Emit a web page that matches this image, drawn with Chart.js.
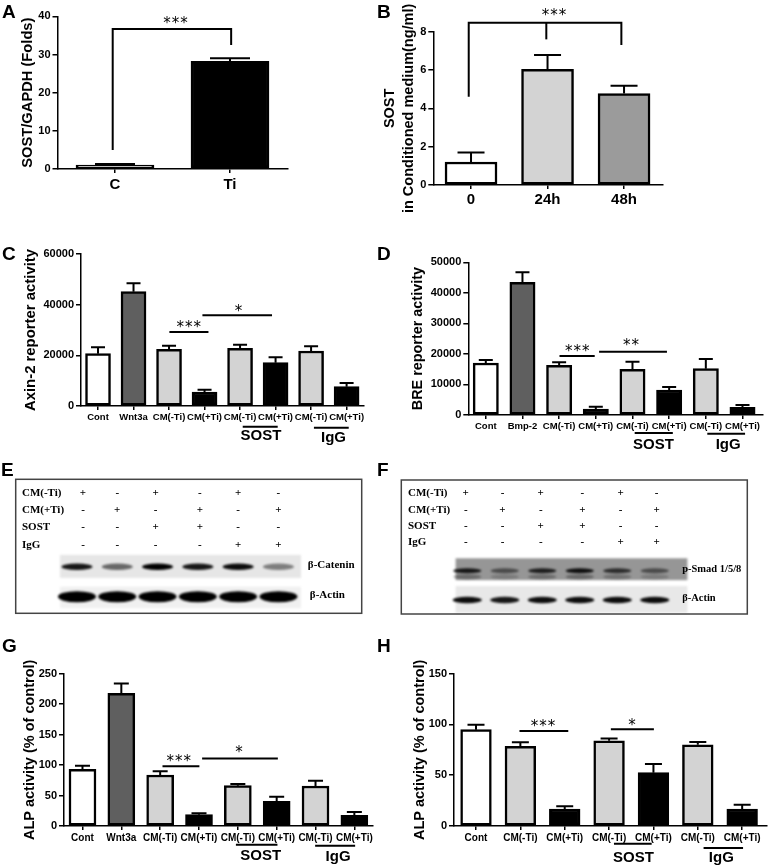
<!DOCTYPE html>
<html>
<head>
<meta charset="utf-8">
<script src="https://cdn.jsdelivr.net/npm/chart.js@4"></script>
<style>
  html, body { margin: 0; padding: 0; background: #fff; }
  body { width: 768px; height: 868px; position: relative; overflow: hidden; filter: blur(0.35px); }
  canvas { position: absolute; }
  .tag { position: absolute; font: bold 19px "Liberation Sans", Arial, sans-serif; line-height: 19px; color: #000; }
</style>
</head>
<body>
<canvas id="panelA"></canvas><canvas id="panelB"></canvas>
<canvas id="panelC"></canvas><canvas id="panelD"></canvas>
<canvas id="panelE"></canvas><canvas id="panelF"></canvas>
<canvas id="panelG"></canvas><canvas id="panelH"></canvas>
<span class="tag" style="left:2px;top:2px">A</span>
<span class="tag" style="left:377px;top:2px">B</span>
<span class="tag" style="left:2px;top:244px">C</span>
<span class="tag" style="left:377px;top:244px">D</span>
<span class="tag" style="left:1px;top:460px">E</span>
<span class="tag" style="left:377px;top:460px">F</span>
<span class="tag" style="left:2px;top:636px">G</span>
<span class="tag" style="left:377px;top:636px">H</span>
<script>
// values
const white = '#ffffff', light = '#d3d3d3', mid = '#9b9b9b', dark = '#5f5f5f', black = '#000000';

const aLabels = ['C', 'Ti'];
const aValues = [1, 28.2];
const aTops = [1.3, 29];
const aColors = [white, black];

const bLabels = ['0', '24h', '48h'];
const bValues = [1.2, 6.03, 4.77];
const bTops = [1.69, 6.78, 5.18];
const bColors = [white, light, mid];

const cLabels = ['Cont', 'Wnt3a', 'CM(-Ti)', 'CM(+Ti)', 'CM(-Ti)', 'CM(+Ti)', 'CM(-Ti)', 'CM(+Ti)'];
const cValues = [20660, 45130, 22370, 5530, 22760, 17100, 21700, 7630];
const cTops = [23160, 48420, 23800, 6450, 24200, 19200, 23550, 9080];

const dLabels = ['Cont', 'Bmp-2', 'CM(-Ti)', 'CM(+Ti)', 'CM(-Ti)', 'CM(+Ti)', 'CM(-Ti)', 'CM(+Ti)'];
const dValues = [17030, 43450, 16270, 1970, 14960, 8190, 15180, 2510];
const dTops = [18010, 46730, 17250, 2730, 17470, 9170, 18340, 3280];

const gLabels = ['Cont', 'Wnt3a', 'CM(-Ti)', 'CM(+Ti)', 'CM(-Ti)', 'CM(+Ti)', 'CM(-Ti)', 'CM(+Ti)'];
const gValues = [93, 217.7, 83.7, 18.6, 66.2, 40.5, 65.6, 17.5];
const gTops = [99, 234, 89.7, 20.8, 69, 48, 74.4, 23];

const hLabels = ['Cont', 'CM(-Ti)', 'CM(+Ti)', 'CM(-Ti)', 'CM(+Ti)', 'CM(-Ti)', 'CM(+Ti)'];
const hValues = [94.9, 78.4, 16.7, 84, 52.5, 80, 16.7];
const hTops = [99.8, 82.4, 19.4, 86.3, 61, 82.7, 21];

const eightColors = [white, dark, light, black, light, black, light, black];
const sevenColors = [white, light, black, light, black, light, black];

// western blot rows and band strength per lane
const rowNames = ['CM(-Ti)', 'CM(+Ti)', 'SOST', 'IgG'];
const rowSigns = [
  ['+', '-', '+', '-', '+', '-'],
  ['-', '+', '-', '+', '-', '+'],
  ['-', '-', '+', '+', '-', '-'],
  ['-', '-', '-', '-', '+', '+']
];
const catenin = [0.9, 0.55, 1, 0.9, 0.95, 0.45];
const actinE = [1, 1, 1, 1, 1, 1];
const smad = [0.85, 0.5, 0.8, 0.9, 0.7, 0.5];
const actinF = [0.95, 0.9, 0.95, 0.95, 0.95, 0.95];

const sans = '"Liberation Sans", Arial, sans-serif';
const serif = '"Liberation Serif", "Times New Roman", serif';

// error whiskers, brackets, significance lines and group notes, all in data units
const extrasPlugin = {
  id: 'extras',
  afterDatasetsDraw(chart, args, opts) {
    const ctx = chart.ctx, x = chart.scales.x, y = chart.scales.y;
    ctx.save();
    ctx.strokeStyle = '#000';
    ctx.lineWidth = 2;
    opts.tops.forEach((top, i) => {
      const px = x.getPixelForValue(i);
      ctx.beginPath();
      ctx.moveTo(px, y.getPixelForValue(opts.values[i]));
      ctx.lineTo(px, y.getPixelForValue(top));
      ctx.moveTo(px - opts.cap / 2, y.getPixelForValue(top));
      ctx.lineTo(px + opts.cap / 2, y.getPixelForValue(top));
      ctx.stroke();
    });
    opts.paths.forEach(path => {
      ctx.beginPath();
      path.forEach((p, i) => {
        const px = x.getPixelForValue(p[0]), py = y.getPixelForValue(p[1]);
        if (i === 0) ctx.moveTo(px, py); else ctx.lineTo(px, py);
      });
      ctx.stroke();
    });
    ctx.fillStyle = '#000';
    ctx.textAlign = 'center';
    ctx.textBaseline = 'middle';
    opts.stars.forEach(s => {
      ctx.font = '15px "DejaVu Sans", sans-serif';
      ctx.letterSpacing = '1px';
      ctx.fillText(s[0], x.getPixelForValue(s[1]), y.getPixelForValue(s[2]) + 2);
    });
    ctx.letterSpacing = '0px';
    opts.notes.forEach(n => {
      ctx.font = 'bold 15px ' + sans;
      ctx.fillText(n[0], x.getPixelForValue(n[1]), y.getPixelForValue(n[2]));
    });
    ctx.restore();
  }
};

function barPanel(id, box, area, o) {
  const canvas = document.getElementById(id);
  canvas.width = box.w; canvas.height = box.h;
  canvas.style.left = box.x + 'px'; canvas.style.top = box.y + 'px';
  return new Chart(canvas, {
    type: 'bar',
    data: {
      datasets: [{
        data: o.values.map((v, i) => ({ x: i, y: v })),
        backgroundColor: o.colors,
        borderColor: '#000',
        borderWidth: 2.5,
        borderSkipped: false,
        barThickness: o.barWidth
      }]
    },
    options: {
      responsive: false,
      animation: false,
      layout: { padding: { left: 0, top: area.top - box.y, right: box.x + box.w - area.right, bottom: 0 } },
      plugins: {
        legend: { display: false },
        tooltip: { enabled: false },
        extras: { values: o.values, tops: o.tops, cap: o.cap, paths: o.paths, stars: o.stars, notes: o.notes || [] }
      },
      scales: {
        x: {
          type: 'linear', offset: false,
          min: o.xMin, max: o.xMax,
          afterBuildTicks: s => { s.ticks = o.labels.map((_, i) => ({ value: i })); },
          afterFit: s => { s.height = box.y + box.h - area.bottom; },
          border: { color: '#000', width: 1.5 },
          grid: { offset: false, drawOnChartArea: false, color: '#000', lineWidth: 1.5, tickLength: 4 },
          ticks: {
            autoSkip: false, maxRotation: 0, minRotation: 0, padding: o.xPad, color: '#000',
            font: { family: sans, weight: 'bold', size: o.xFont },
            callback: v => o.labels[v]
          }
        },
        y: {
          min: 0, max: o.yMax,
          afterFit: s => { s.width = area.left - box.x; },
          border: { color: '#000', width: 1.5 },
          grid: { drawOnChartArea: false, color: '#000', lineWidth: 1.5, tickLength: 5 },
          title: {
            display: true, text: o.title, color: '#000',
            font: { family: sans, weight: 'bold', size: o.titleFont, lineHeight: 1.3 }, padding: { top: o.titlePad, bottom: 0 }
          },
          ticks: {
            stepSize: o.step, padding: 2, color: '#000',
            font: { family: sans, weight: 'bold', size: 11 },
            callback: v => String(v)
          }
        }
      }
    },
    plugins: [extrasPlugin]
  });
}

barPanel('panelA', { x: 0, y: 0, w: 380, h: 235 }, { left: 57.5, right: 287.5, top: 16.3, bottom: 169 }, {
  labels: aLabels, values: aValues, tops: aTops, colors: aColors,
  xMin: -0.5, xMax: 1.5, yMax: 40, step: 10, barWidth: 78, cap: 40, xFont: 15, xPad: 3,
  title: 'SOST/GAPDH (Folds)', titleFont: 14.7, titlePad: 18,
  paths: [[[-0.02, 5], [-0.02, 36.7], [1.01, 36.7], [1.01, 32.5]]],
  stars: [['***', 0.53, 38.6]]
});

barPanel('panelB', { x: 376, y: 0, w: 392, h: 235 }, { left: 433.3, right: 662.3, top: 31.7, bottom: 185 }, {
  labels: bLabels, values: bValues, tops: bTops, colors: bColors,
  xMin: -0.493, xMax: 2.5, yMax: 8, step: 2, barWidth: 52, cap: 27, xFont: 15, xPad: 2,
  title: ['SOST', 'in Conditioned medium(ng/ml)'], titleFont: 14.5, titlePad: 4.4,
  paths: [[[-0.03, 4.6], [-0.03, 8.47], [1.965, 8.47], [1.965, 7.3]], [[0.984, 8.47], [0.984, 7.6]]],
  stars: [['***', 1.09, 8.9]]
});

barPanel('panelC', { x: 0, y: 240, w: 380, h: 220 }, { left: 81, right: 364, top: 254, bottom: 406 }, {
  labels: cLabels, values: cValues, tops: cTops, colors: eightColors,
  xMin: -0.479, xMax: 7.49, yMax: 60000, step: 20000, barWidth: 25, cap: 14, xFont: 9.5, xPad: 2,
  title: 'Axin-2 reporter activity', titleFont: 14.9, titlePad: 21,
  paths: [[[2.01, 29210], [3.11, 29210]], [[2.94, 35790], [4.9, 35790]], [[4.075, -8160], [5.06, -8160]], [[6.08, -8550], [7.06, -8550]]],
  stars: [['***', 2.57, 31500], ['*', 3.97, 37800]],
  notes: [['SOST', 4.59, -11840], ['IgG', 6.63, -12500]]
});

barPanel('panelD', { x: 380, y: 240, w: 388, h: 220 }, { left: 468.3, right: 762.3, top: 262.3, bottom: 415 }, {
  labels: dLabels, values: dValues, tops: dTops, colors: eightColors,
  xMin: -0.477, xMax: 7.54, yMax: 50000, step: 10000, barWidth: 25.3, cap: 14, xFont: 9.5, xPad: 2,
  title: 'BRE reporter activity', titleFont: 14.4, titlePad: 29,
  paths: [[[2.01, 19320], [2.97, 19320]], [[3.09, 20740], [4.94, 20740]], [[4.06, -5900], [5.1, -5900]], [[6.04, -6110], [7.07, -6110]]],
  stars: [['***', 2.51, 21100], ['**', 3.97, 23100]],
  notes: [['SOST', 4.57, -9830], ['IgG', 6.61, -9830]]
});

barPanel('panelG', { x: 0, y: 630, w: 380, h: 238 }, { left: 64, right: 373, top: 673.7, bottom: 826 }, {
  labels: gLabels, values: gValues, tops: gTops, colors: eightColors,
  xMin: -0.476, xMax: 7.48, yMax: 250, step: 50, barWidth: 27, cap: 15, xFont: 10, xPad: 2,
  title: 'ALP activity (% of control)', titleFont: 14.5, titlePad: 21,
  paths: [[[2.06, 97.9], [3.01, 97.9]], [[3.08, 111], [5.03, 111]], [[3.95, -30.6], [5.02, -30.6]], [[5.99, -32.3], [7.02, -32.3]]],
  stars: [['***', 2.49, 108], ['*', 4.04, 123]],
  notes: [['SOST', 4.59, -48.7], ['IgG', 6.58, -50.3]]
});

barPanel('panelH', { x: 384, y: 630, w: 384, h: 238 }, { left: 454, right: 766.7, top: 673.7, bottom: 826 }, {
  labels: hLabels, values: hValues, tops: hTops, colors: sevenColors,
  xMin: -0.496, xMax: 6.553, yMax: 150, step: 50, barWidth: 30.7, cap: 17, xFont: 10, xPad: 2,
  title: 'ALP activity (% of control)', titleFont: 14.5, titlePad: 27,
  paths: [[[0.98, 93.5], [2.08, 93.5]], [[3.04, 95.2], [4.01, 95.2]], [[3.11, -17.4], [3.96, -17.4]], [[5.13, -21.7], [6.02, -21.7]]],
  stars: [['***', 1.52, 99], ['*', 3.53, 100]],
  notes: [['SOST', 3.55, -30.9], ['IgG', 5.53, -31.5]]
});

// blots: lanes on x, rows on y
const blotPlugin = {
  id: 'blot',
  afterDraw(chart, args, o) {
    const ctx = chart.ctx, x = chart.scales.x, y = chart.scales.y;
    ctx.save();
    o.strips.forEach(s => {
      ctx.fillStyle = s.bg;
      ctx.filter = 'blur(1px)';
      ctx.fillRect(x.getPixelForValue(o.stripFrom), y.getPixelForValue(s.from),
        x.getPixelForValue(o.stripTo) - x.getPixelForValue(o.stripFrom), y.getPixelForValue(s.to) - y.getPixelForValue(s.from));
      s.bands.forEach((b, i) => {
        ctx.filter = 'blur(' + s.soft + 'px)';
        ctx.fillStyle = 'rgba(0,0,0,' + b + ')';
        ctx.beginPath();
        ctx.ellipse(x.getPixelForValue(i), y.getPixelForValue(s.row), s.rx, s.ry, 0, 0, Math.PI * 2);
        ctx.fill();
        if (s.ghost) {
          ctx.fillStyle = 'rgba(0,0,0,' + b * 0.35 + ')';
          ctx.beginPath();
          ctx.ellipse(x.getPixelForValue(i), y.getPixelForValue(s.ghost), s.rx, s.ry, 0, 0, Math.PI * 2);
          ctx.fill();
        }
      });
    });
    ctx.filter = 'none';
    ctx.strokeStyle = '#444';
    ctx.lineWidth = 1.5;
    ctx.strokeRect(o.frame[0], o.frame[1], o.frame[2], o.frame[3]);
    ctx.fillStyle = '#000';
    ctx.textBaseline = 'middle';
    ctx.font = 'bold 11px ' + serif;
    rowNames.forEach((name, r) => {
      ctx.textAlign = 'left';
      ctx.fillText(name, x.getPixelForValue(o.nameAt), y.getPixelForValue(r));
      ctx.textAlign = 'center';
      rowSigns[r].forEach((sign, i) => ctx.fillText(sign, x.getPixelForValue(o.signAt[i]), y.getPixelForValue(r)));
    });
    ctx.textAlign = 'left';
    o.strips.forEach(s => {
      ctx.font = 'bold ' + o.rightFont + 'px ' + serif;
      ctx.fillText(s.name, x.getPixelForValue(s.nameAt), y.getPixelForValue(s.row - 0.1));
    });
    ctx.restore();
  }
};

function blotPanel(id, box, xr, yr, o) {
  const canvas = document.getElementById(id);
  canvas.width = box.w; canvas.height = box.h;
  canvas.style.left = box.x + 'px'; canvas.style.top = box.y + 'px';
  return new Chart(canvas, {
    type: 'scatter',
    data: { datasets: [{ data: [] }] },
    options: {
      responsive: false,
      animation: false,
      plugins: { legend: { display: false }, tooltip: { enabled: false }, blot: o },
      scales: {
        x: { display: false, min: xr[0], max: xr[1] },
        y: { display: false, min: yr[0], max: yr[1], reverse: true }
      }
    },
    plugins: [blotPlugin]
  });
}

blotPanel('panelE', { x: 0, y: 460, w: 384, h: 170 }, [-1.91, 7.62], [-1.9, 7.92], {
  frame: [15.7, 19.3, 346, 134], nameAt: -1.365, signAt: [0.15, 1, 1.95, 3.05, 4, 5], rightFont: 11,
  stripFrom: -0.42, stripTo: 5.56,
  strips: [
    { name: '\u03b2-Catenin', nameAt: 5.73, bg: '#e6e6e6', from: 3.58, to: 4.91, row: 4.27, rx: 15.5, ry: 3.2, soft: 1.2, bands: catenin },
    { name: '\u03b2-Actin', nameAt: 5.78, bg: '#f0f0f0', from: 5.42, to: 6.66, row: 6, rx: 19, ry: 5.5, soft: 1, bands: actinE }
  ]
});

blotPanel('panelF', { x: 384, y: 460, w: 384, h: 170 }, [-2.22, 8.02], [-2.03, 8.33], {
  frame: [17.3, 20, 346, 134], nameAt: -1.58, signAt: [-0.04, 0.94, 1.96, 3.07, 4.09, 5.05], rightFont: 10.5,
  stripFrom: -0.31, stripTo: 5.87,
  strips: [
    { name: 'p-Smad 1/5/8', nameAt: 5.73, bg: '#969696', from: 3.96, to: 5.29, row: 4.72, ghost: 5.08, rx: 14, ry: 2.5, soft: 1.2, bands: smad },
    { name: '\u03b2-Actin', nameAt: 5.73, bg: '#e8e8e8', from: 5.65, to: 7.28, row: 6.5, rx: 14.5, ry: 3.2, soft: 1, bands: actinF }
  ]
});
</script>
</body>
</html>
